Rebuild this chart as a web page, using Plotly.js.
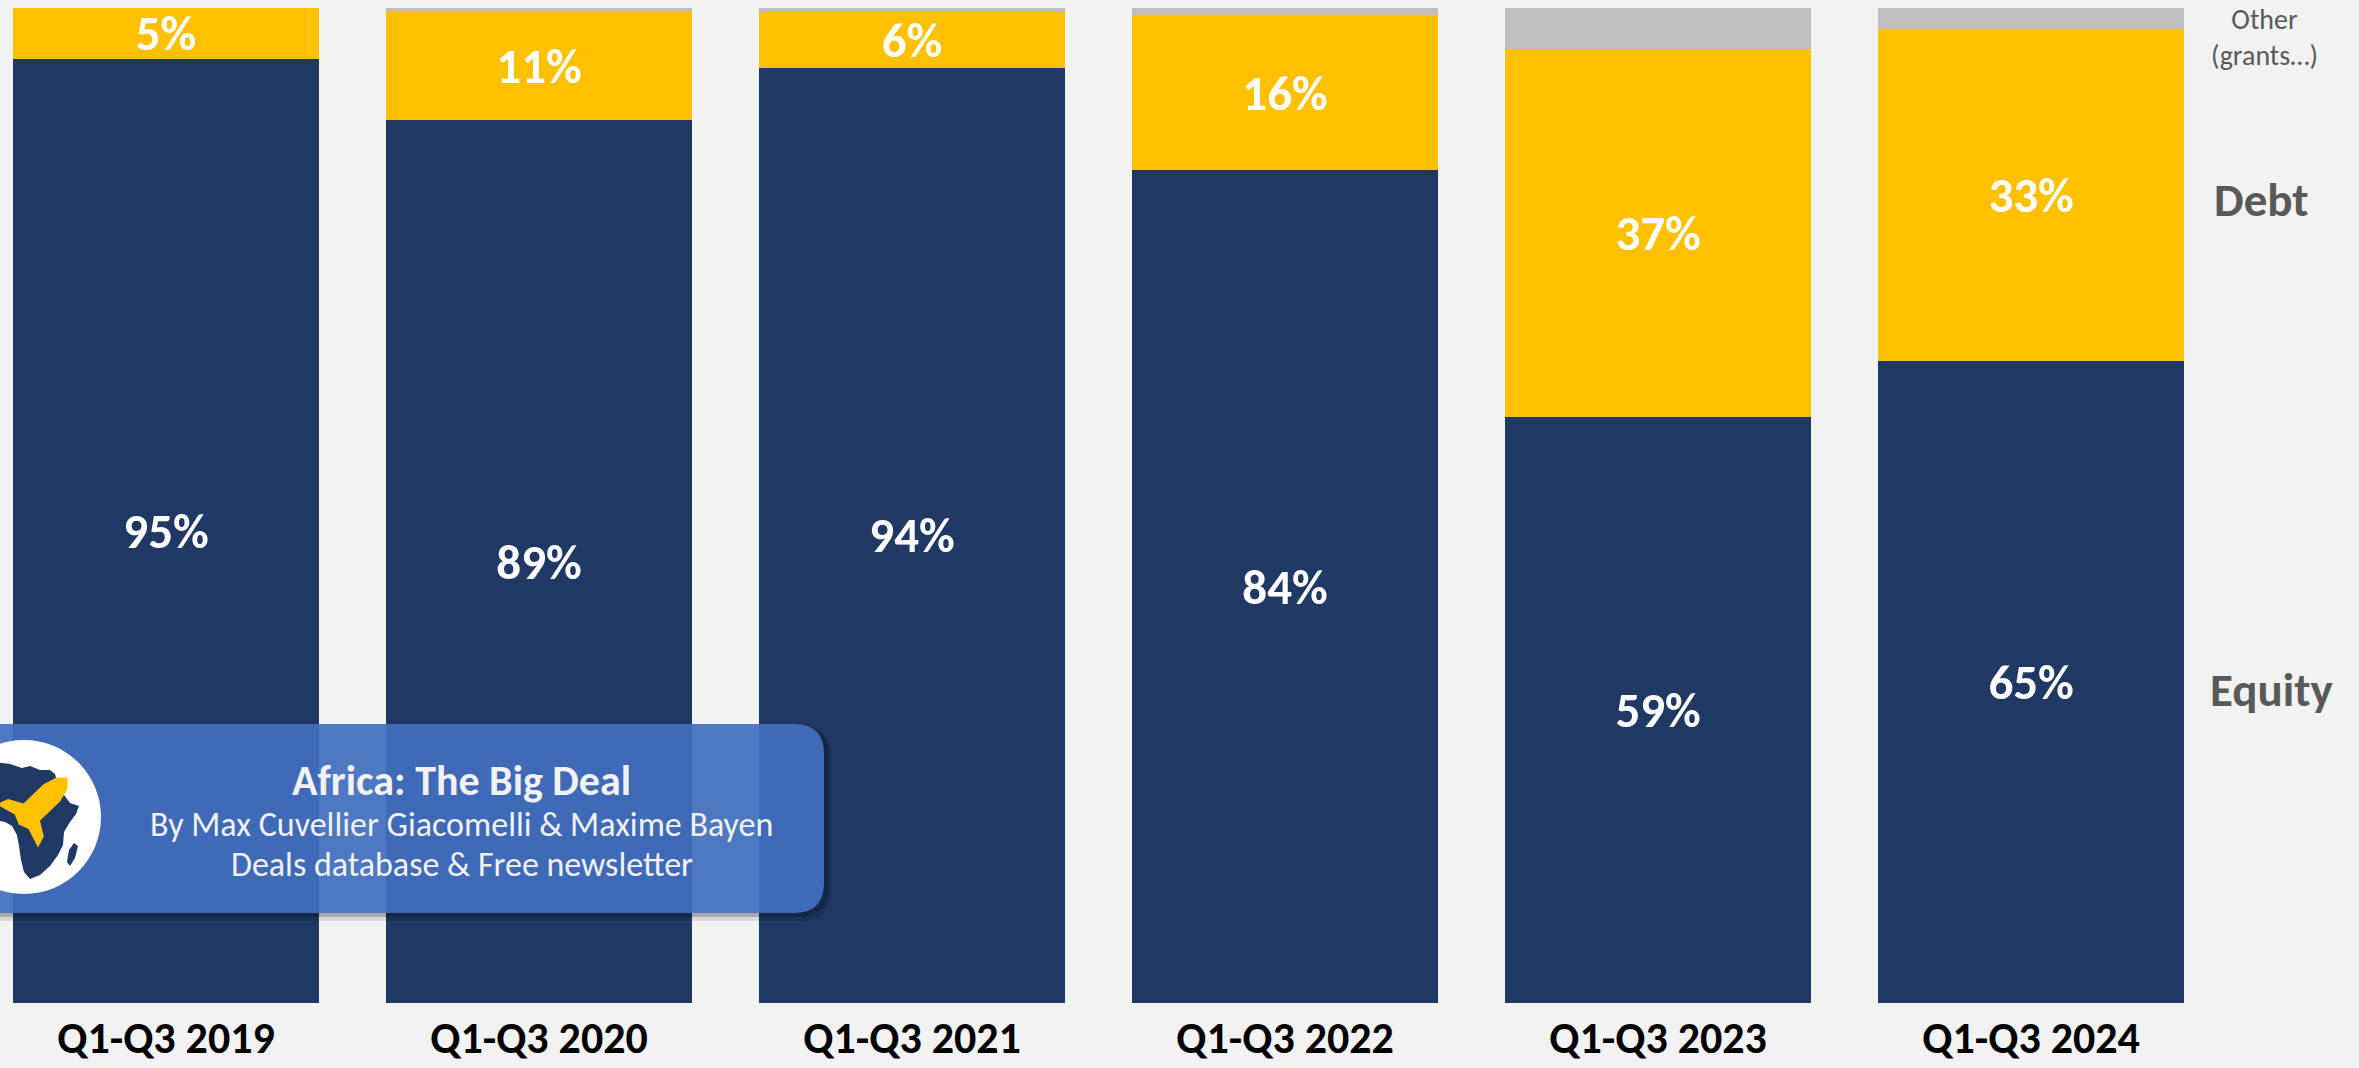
<!DOCTYPE html>
<html>
<head>
<meta charset="utf-8">
<script src="https://cdn.plot.ly/plotly-3.0.1.min.js"></script>
<style>
  html, body { margin: 0; padding: 0; background: #F2F2F2; }
  #chart { width: 2359px; height: 1068px; }
</style>
</head>
<body>
<div id="chart"></div>
<script>
// ---- Data ----
const categories = ["Q1-Q3 2019", "Q1-Q3 2020", "Q1-Q3 2021", "Q1-Q3 2022", "Q1-Q3 2023", "Q1-Q3 2024"];
const equity = [94.9, 88.7, 94.0, 83.7, 58.9, 64.5];
const debt   = [5.1, 11.0, 5.6, 15.6, 37.0, 33.4];
const other  = [0.0, 0.3, 0.4, 0.7, 4.1, 2.1];
const equityLabels = ["95%", "89%", "94%", "84%", "59%", "65%"];
const debtLabels   = ["5%", "11%", "6%", "16%", "37%", "33%"];
const seriesNames  = ["Equity", "Debt", "Other<br>(grants…)"];

// ---- Styling ----
const FONT = "Carlito, Calibri, Lato, sans-serif";
const W = 2359, H = 1068, MT = 8, MB = 65;
const PH = H - MT - MB;
const px = x => x / W;
const py = y => (H - MB - y) / PH;

const barText = { family: FONT, size: 49, color: "#FFFFFF", weight: 700 };
const common = {
  type: "bar", x: categories, width: 0.82,
  textposition: "inside", insidetextanchor: "middle", textangle: 0,
  constraintext: "none", hoverinfo: "skip", cliponaxis: false,
  textfont: barText, insidetextfont: barText
};

const traces = [
  Object.assign({}, common, { name: "Equity", y: equity, text: equityLabels, marker: { color: "#203864" } }),
  Object.assign({}, common, { name: "Debt", y: debt, text: debtLabels, marker: { color: "#FFC000" } }),
  Object.assign({}, common, { name: "Other", y: other, marker: { color: "#BFBFBF" } })
];

// ---- Decorative watermark (logo box) ----
function roundRect(x0, y0, x1, y1, r) {
  const P = (x, y) => px(x) + "," + py(y);
  return "M" + P(x0 + r, y0) + " L" + P(x1 - r, y0) +
    " Q" + P(x1, y0) + " " + P(x1, y0 + r) +
    " L" + P(x1, y1 - r) + " Q" + P(x1, y1) + " " + P(x1 - r, y1) +
    " L" + P(x0 + r, y1) + " Q" + P(x0, y1) + " " + P(x0, y1 - r) +
    " L" + P(x0, y0 + r) + " Q" + P(x0, y0) + " " + P(x0 + r, y0) + " Z";
}
function poly(pts) {
  return "M" + pts.map(p => px(p[0]) + "," + py(p[1])).join(" L") + " Z";
}
const africa = [[-40,775],[-25,766],[-5,762],[10,764],[22,768],[30,766],[40,770],[50,770],[55,774],[58,785],
  [64,795],[70,803],[79,806],[76,814],[70,822],[64,832],[63,845],[58,855],[50,866],[40,875],[30,879],[24,872],
  [21,860],[19,846],[17,835],[12,826],[5,822],[-5,820],[-20,818],[-35,812],[-45,800],[-45,785]];
const madagascar = [[74,843],[78,846],[75,858],[70,866],[67,862],[69,850]];
const rocketLocal = [[44,0],[36,8],[22,12],[-6,12],[-14,26],[-26,30],[-20,10],[-24,0],[-20,-10],[-26,-30],[-14,-26],[-6,-12],[22,-12],[36,-8]];
const rc = [36, 808], d = [0.72, -0.69], n = [0.69, 0.72];
const rocket = rocketLocal.map(p => [rc[0] + p[0]*d[0] + p[1]*n[0], rc[1] + p[0]*d[1] + p[1]*n[1]]);

const shapes = [
  { type: "path", xref: "paper", yref: "paper", layer: "above", path: roundRect(-30, 726, 832, 921, 32), fillcolor: "rgba(0,0,0,0.10)", line: { width: 0 } },
  { type: "path", xref: "paper", yref: "paper", layer: "above", path: roundRect(-30, 725, 829, 917, 31), fillcolor: "rgba(0,0,0,0.22)", line: { width: 0 } },
  { type: "path", xref: "paper", yref: "paper", layer: "above", path: roundRect(-30, 724, 824, 913, 30), fillcolor: "rgba(68,114,196,0.9)", line: { width: 0 } },
  { type: "circle", xref: "paper", yref: "paper", layer: "above", x0: px(24 - 77), x1: px(24 + 77), y0: py(817 + 77), y1: py(817 - 77), fillcolor: "#FFFFFF", line: { width: 0 } },
  { type: "path", xref: "paper", yref: "paper", layer: "above", path: poly(africa), fillcolor: "#203864", line: { width: 0 } },
  { type: "path", xref: "paper", yref: "paper", layer: "above", path: poly(madagascar), fillcolor: "#203864", line: { width: 0 } },
  { type: "path", xref: "paper", yref: "paper", layer: "above", path: poly(rocket), fillcolor: "#FFC000", line: { width: 0 } }
];

const grey = "#595959";
const annotations = [
  { xref: "paper", yref: "paper", x: px(2264), y: py(0), text: seriesNames[2], showarrow: false, xanchor: "center", yanchor: "top",
    font: { family: FONT, size: 28, color: grey }, align: "center" },
  { xref: "paper", yref: "paper", x: px(2261), y: py(200), text: seriesNames[1], showarrow: false, xanchor: "center", yanchor: "middle",
    font: { family: FONT, size: 47, color: grey, weight: 700 } },
  { xref: "paper", yref: "paper", x: px(2272), y: py(690), text: seriesNames[0], showarrow: false, xanchor: "center", yanchor: "middle",
    font: { family: FONT, size: 47, color: grey, weight: 700 } },
  { xref: "paper", yref: "paper", x: px(461), y: py(780), text: "Africa: The Big Deal", showarrow: false, xanchor: "center", yanchor: "middle",
    font: { family: FONT, size: 42, color: "#F2F2F2", weight: 700 } },
  { xref: "paper", yref: "paper", x: px(461), y: py(825), text: "By Max Cuvellier Giacomelli & Maxime Bayen", showarrow: false, xanchor: "center", yanchor: "middle",
    font: { family: FONT, size: 34, color: "#F2F2F2" } },
  { xref: "paper", yref: "paper", x: px(462), y: py(864), text: "Deals database & Free newsletter", showarrow: false, xanchor: "center", yanchor: "middle",
    font: { family: FONT, size: 34, color: "#F2F2F2" } }
];

const layout = {
  width: W, height: H,
  margin: { l: 0, r: 0, t: MT, b: MB, pad: 0 },
  paper_bgcolor: "#F2F2F2", plot_bgcolor: "#F2F2F2",
  barmode: "stack", showlegend: false,
  xaxis: {
    type: "category", range: [-0.445, 5.879], fixedrange: true,
    showgrid: false, zeroline: false, showline: false, ticks: "",
    tickfont: { family: FONT, size: 44, color: "#000000", weight: 700 },
    ticklabelstandoff: 5
  },
  yaxis: { range: [0, 100], visible: false, fixedrange: true },
  shapes: shapes,
  annotations: annotations
};

Plotly.newPlot("chart", traces, layout, { staticPlot: true, displayModeBar: false });
</script>
</body>
</html>
